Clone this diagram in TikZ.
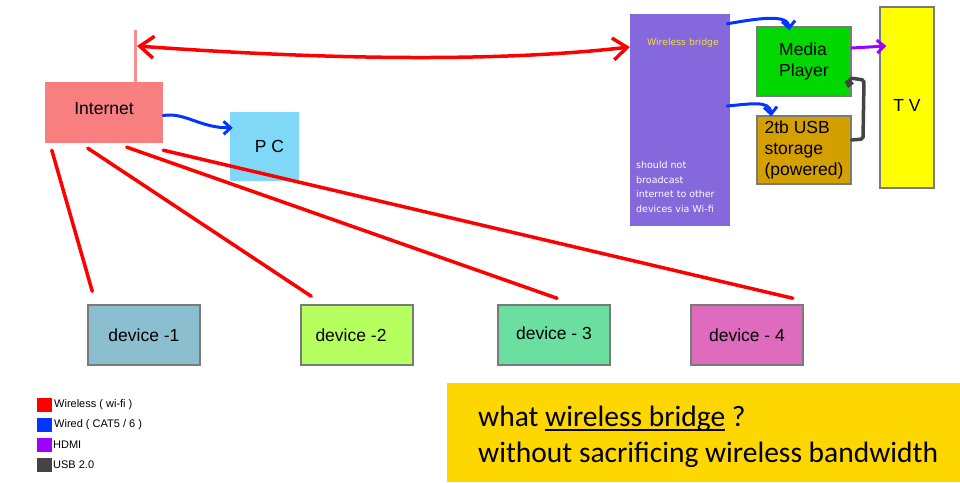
\documentclass[tikz,border=0pt]{standalone}
\usepackage{fontspec}
\setmainfont{Liberation Sans}
\newfontfamily\bridgefont{DejaVu Sans}
\newfontfamily\askfont{Carlito}
\usetikzlibrary{arrows.meta}

\definecolor{inetred}{HTML}{F87F7F}
\definecolor{antpink}{HTML}{F49090}
\definecolor{pcblue}{HTML}{7FD8F8}
\definecolor{bridgepurple}{HTML}{8468DC}
\definecolor{bridgeyellow}{HTML}{F2E040}
\definecolor{mediagreen}{HTML}{00D800}
\definecolor{usbgold}{HTML}{D4A000}
\definecolor{tvyellow}{HTML}{FFFF00}
\definecolor{devblue}{HTML}{8BBFCF}
\definecolor{devlime}{HTML}{B5FF5F}
\definecolor{devmint}{HTML}{6BDF9F}
\definecolor{devpink}{HTML}{DF6BBF}
\definecolor{askgold}{HTML}{FFD700}
\definecolor{boxgray}{HTML}{7A7A7A}
\definecolor{wifired}{HTML}{FF0000}
\definecolor{wiredblue}{HTML}{0036FF}
\definecolor{hdmipurple}{HTML}{A000FF}
\definecolor{usbdark}{HTML}{444444}

% thick underline as in the question box
\newcommand{\askline}[1]{\setbox0\hbox{#1}\rlap{\raisebox{-5pt}{\rule{\wd0}{2pt}}}\box0\relax}

\begin{document}
\begin{tikzpicture}[
  x=1pt,y=-1pt,
  font=\fontsize{17.5}{21}\selectfont,
  flat/.style={inner sep=0pt, align=center},
  device/.style={flat, draw=boxgray, line width=1.5pt, minimum width=112pt, minimum height=60pt},
  gearbox/.style={flat, draw=boxgray, line width=1.5pt, align=left},
  wifi/.style={draw=wifired, line width=3.5pt, line cap=round},
  wired/.style={draw=wiredblue, line width=3pt, line cap=round, -{Straight Barb[length=7pt,width=13pt]}},
  hdmi/.style={draw=hdmipurple, line width=3pt, line cap=round, -{Straight Barb[length=7pt,width=13pt]}},
  usbcable/.style={draw=usbdark, line width=3.5pt, line cap=round, rounded corners=2pt, -{Straight Barb[length=4pt,width=7pt]}},
  swatch/.style={inner sep=0pt, minimum width=15pt, minimum height=14pt},
  legendtext/.style={anchor=west, inner sep=0pt, font=\fontsize{11}{13}\selectfont}
]

% Canvas: 960 x 482, y grows downwards
\path[use as bounding box] (0,0) rectangle (960,482);

% Home network side
\node[flat, fill=inetred, minimum width=118pt, minimum height=61pt] (inet) at (104,112.5) {\raisebox{4pt}[\height][\depth]{Internet}};
\node[flat, fill=pcblue, minimum width=69pt, minimum height=69pt] (pc) at (264.5,146.5) {\hspace{10pt}P C};
\coordinate (anttop) at (135,30);
\coordinate (antmid) at (137,46);
\draw[antpink, line width=3pt] (inet.north -| anttop) -- (anttop);

% Bridge side
\node[flat, fill=bridgepurple, minimum width=100pt, minimum height=212pt] (bridge) at (680,120) {};
\node[text=bridgeyellow, inner sep=0pt, font=\bridgefont\fontsize{9.3}{11}\selectfont] (bridgetitle) at (683,43) {Wireless bridge};
\node[text=white, inner sep=0pt, anchor=north west, align=left, font=\bridgefont\fontsize{9.5}{14.6}\selectfont] (bridgenote) at (636,161)
  {should not\\broadcast\\internet to other\\devices via Wi-fi};

\node[gearbox, fill=mediagreen, minimum width=94pt, minimum height=69pt] (media) at (804,61.5) {Media\\Player\hspace{10pt}};
\node[gearbox, fill=usbgold, minimum width=94pt, minimum height=68pt] (stor) at (804,150) {2tb USB\\storage\\(powered)};
\node[gearbox, fill=tvyellow, minimum width=54pt, minimum height=181pt] (tv) at (907,97.5) {\raisebox{-8pt}[\height][\depth]{T V}};

% Devices
\node[device, fill=devblue] (dev1) at (144,335) {device -1};
\node[device, fill=devlime] (dev2) at (357,335) {device -2\hspace{12pt}};
\node[device, fill=devmint] (dev3) at (554,335) {\raisebox{4pt}{device - 3}};
\node[device, fill=devpink] (dev4) at (747,335) {device - 4};

% Wireless links
\draw[wifi] ([shift={(7,7)}]inet.south west) -- ([shift={(5,-13)}]dev1.north west);
\draw[wifi] ([shift={(43,5)}]inet.south west) -- ([shift={(11,-8)}]dev2.north west);
\draw[wifi] ([shift={(82,4)}]inet.south west) -- ([shift={(3,-6)}]dev3.north);
\draw[wifi] ([shift={(0,7)}]inet.south east) -- ([shift={(-11,-6)}]dev4.north east);
\draw[wifi, {Straight Barb[length=14pt,width=22pt]}-{Straight Barb[length=14pt,width=22pt]}]
  (antmid) .. controls (330,60) and (500,62) .. ([shift={(0,1)}]bridge.west |- antmid);

% Wired links
\draw[wired] ([shift={(0,3)}]inet.east) .. controls (185,112) and (200,128) .. ([shift={(3,16)}]pc.north west);
\draw[wired] ([shift={(-3,10)}]bridge.north east) .. controls (760,18) and (788,14) .. ([shift={(33,4)}]media.north west);
\draw[wired] ([shift={(-3,-14)}]bridge.east) .. controls (750,104) and (770,100) .. ([shift={(15,1)}]stor.north west);

% HDMI and USB
\draw[hdmi] ([shift={(0,-13.5)}]media.east) -- ([shift={(7,-51.5)}]tv.west);
\draw[usbcable] ([shift={(0,-10)}]stor.east) -- (863,139) -- (864,80) -- (850,78) -- (848,88);

% Legend
\node[swatch, fill=wifired] (keywifi) at (44.5,405) {};
\node[legendtext] (keywifitext) at (54,405) {Wireless ( wi-fi )};
\node[swatch, fill=wiredblue] (keywired) at (44.5,425) {};
\node[legendtext] (keywiredtext) at (54,425) {Wired ( CAT5 / 6 )};
\node[swatch, fill=hdmipurple] (keyhdmi) at (44.5,445) {};
\node[legendtext] (keyhdmitext) at (53,445) {HDMI};
\node[swatch, fill=usbdark] (keyusb) at (44.5,465) {};
\node[legendtext] (keyusbtext) at (53,465) {USB 2.0};

% Question
\node[flat, fill=askgold, minimum width=513pt, minimum height=99pt] (ask) at (703.5,432.5) {};
\node[anchor=base west, inner sep=0pt, font=\askfont\fontsize{29.5}{36}\selectfont] (askone) at (478,426)
  {what \askline{wireless bridge} ?};
\node[anchor=base west, inner sep=0pt, font=\askfont\fontsize{29.5}{36}\selectfont] (asktwo) at (478,462)
  {without sacrificing wireless bandwidth};

\end{tikzpicture}
\end{document}
